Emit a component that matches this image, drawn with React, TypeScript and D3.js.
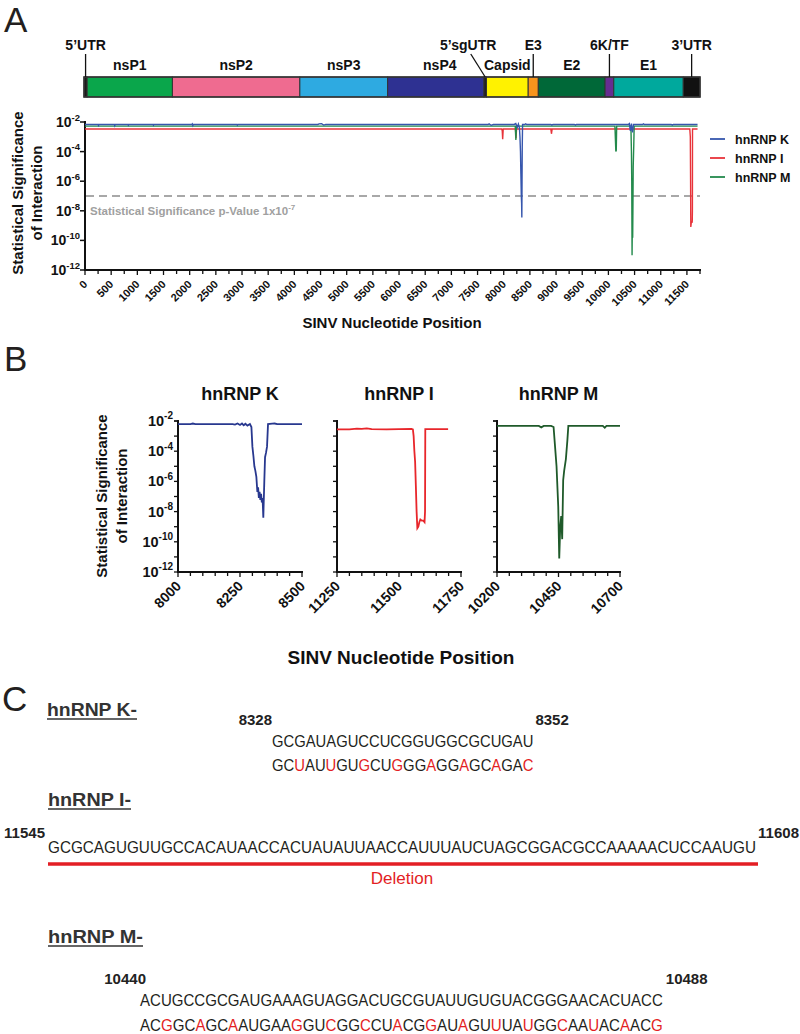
import React from "react";
import * as d3 from "d3";

// ---------- Genome map ----------
const genomeNames = ["5’UTR", "nsP1", "nsP2", "nsP3", "nsP4", "5’sgUTR", "Capsid", "E3", "E2", "6K/TF", "E1", "3’UTR"];
const genomeStart = [0, 60, 1680, 4101, 5769, 7598, 7647, 8439, 8631, 9900, 10065, 11385];
const genomeEnd = [60, 1680, 4101, 5769, 7598, 7647, 8439, 8631, 9900, 10065, 11385, 11703];
const calloutNames = ["5’UTR", "5’sgUTR", "E3", "6K/TF", "3’UTR"];

// ---------- Panel A (whole genome) ----------
const aKPos = [0, 250, 258, 266, 560, 568, 576, 820, 828, 836, 1300, 1308, 1316, 2040, 2050, 2060, 2070, 2900, 2910, 2920, 4450, 4470, 4520, 4560, 4600, 7700, 7720, 7760, 7800, 8200, 8230, 8260, 8280, 8300, 8310, 8320, 8328, 8336, 8342, 8346, 8350, 8354, 8360, 8400, 8420, 8440, 8900, 8920, 8940, 9350, 9370, 9390, 10380, 10400, 10420, 10440, 10460, 10480, 10650, 10670, 10690, 11200, 11220, 11240, 11703];
const aKVal = [0.0068, 0.0068, 0.0058, 0.0068, 0.0068, 0.0057, 0.0068, 0.0068, 0.006, 0.0068, 0.0068, 0.006, 0.0068, 0.0068, 0.0075, 0.0057, 0.0068, 0.0068, 0.006, 0.0068, 0.0068, 0.0075, 0.0078, 0.0062, 0.0068, 0.0068, 0.0075, 0.006, 0.0068, 0.0068, 0.0078, 0.0045, 0.0072, 0.004, 1e-3, 1e-4, 3e-6, 1e-7, 3e-8, 3.5e-9, 1e-6, 2e-4, 0.0068, 0.0068, 0.0075, 0.0068, 0.0068, 0.0062, 0.0068, 0.0068, 0.0062, 0.0068, 0.0068, 0.0078, 0.0025, 0.0078, 0.002, 0.0068, 0.0068, 0.0075, 0.0068, 0.0068, 0.0062, 0.0068, 0.0068];

const aIPos = [0, 7960, 7972, 7980, 7990, 8225, 8235, 8245, 8900, 8912, 8925, 11555, 11565, 11570, 11574, 11580, 11588, 11596, 11602, 11605, 11607, 11703];
const aIVal = [0.0034, 0.0034, 0.0025, 7e-4, 0.0034, 0.0034, 8e-4, 0.0034, 0.0034, 1.6e-3, 0.0034, 0.0034, 1e-3, 1e-6, 8e-10, 1.2e-9, 2e-9, 1.5e-9, 2e-9, 1e-8, 0.0034, 0.0034];

const aMPos = [0, 8220, 8232, 8244, 10125, 10135, 10142, 10150, 10158, 10430, 10440, 10446, 10452, 10457, 10461, 10464, 10468, 10474, 10485, 10492, 11703];
const aMVal = [0.0053, 0.0053, 6e-4, 0.0053, 0.0053, 5e-4, 1e-4, 1.2e-4, 0.0053, 0.0053, 1e-4, 1e-6, 1e-11, 1e-9, 5e-9, 1.5e-10, 1e-8, 1e-5, 3e-4, 0.0053, 0.0053];

const seriesNames = ["hnRNP K", "hnRNP I", "hnRNP M"];
const aXTicks = d3.range(0, 11501, 500);
const aXMinor = d3.range(0, 11751, 250);
const yExponents = [-2, -4, -6, -8, -10, -12];
const thresholdP = 1e-7;

// ---------- Panel B (zoomed windows) ----------
const bKPos = [8000, 8050, 8060, 8070, 8220, 8230, 8240, 8250, 8258, 8265, 8272, 8280, 8290, 8296, 8300, 8304, 8308, 8312, 8316, 8320, 8323, 8326, 8329, 8332, 8335, 8338, 8341, 8344, 8348, 8351, 8355, 8359, 8363, 8380, 8390, 8400, 8500];
const bKVal = [0.0063, 0.0063, 0.0068, 0.0063, 0.0063, 0.0058, 0.0068, 0.0055, 0.0068, 0.0052, 0.0066, 0.005, 0.0063, 0.004, 2e-4, 5e-5, 1e-5, 5e-6, 2e-6, 2e-7, 4e-7, 8e-8, 2e-7, 6e-8, 1.5e-7, 4e-8, 8e-8, 4e-9, 1e-6, 4e-5, 8e-5, 2e-4, 0.0063, 0.0066, 0.0068, 0.0063, 0.0063];

const bIPos = [11250, 11300, 11330, 11350, 11370, 11390, 11450, 11550, 11556, 11559, 11562, 11565, 11568, 11571, 11574, 11578, 11582, 11586, 11592, 11598, 11603, 11605, 11606, 11698];
const bIVal = [0.0028, 0.0028, 0.0031, 0.003, 0.0032, 0.0029, 0.0028, 0.003, 0.0028, 1e-3, 1e-4, 2e-5, 5e-7, 1e-8, 8e-10, 1e-9, 2e-9, 3e-9, 2.5e-9, 2.5e-9, 2e-9, 1e-8, 0.0029, 0.0029];

const bMPos = [10200, 10370, 10380, 10390, 10420, 10430, 10436, 10442, 10449, 10453, 10457, 10461, 10465, 10469, 10473, 10480, 10486, 10490, 10630, 10638, 10645, 10700];
const bMVal = [0.0047, 0.0047, 0.0038, 0.0047, 0.0047, 0.004, 2e-4, 1e-5, 2e-8, 8e-12, 1e-9, 5e-9, 1.5e-10, 1.2e-6, 5e-6, 3e-5, 5e-4, 0.0047, 0.0047, 0.0036, 0.0047, 0.0047];

const bDomains = [[8000, 8500], [11250, 11750], [10200, 10700]];
const bTicks = [[8000, 8250, 8500], [11250, 11500, 11750], [10200, 10450, 10700]];

// ---------- Panel C (sequences) ----------
const kStartLabel = "8328";
const kEndLabel = "8352";
const kWild = "GCGAUAGUCCUCGGUGGCGCUGAU";
const kMutant = "GCUAUUGUGCUGGGAGGAGCAGAC";
const iStartLabel = "11545";
const iEndLabel = "11608";
const iWild = "GCGCAGUGUUGCCACAUAACCACUAUAUUAACCAUUUAUCUAGCGGACGCCAAAAACUCCAAUGU";
const mStartLabel = "10440";
const mEndLabel = "10488";
const mWild = "ACUGCCGCGAUGAAAGUAGGACUGCGUAUUGUGUACGGGAACACUACC";
const mMutant = "ACGGCAGCAAUGAAGGUCGGCCUACGGAUAGUUUAUGGCAAUACAACG";

// ---------- styles ----------
const FONT = "'Liberation Sans', Arial, Helvetica, sans-serif";
const NARROW = "'Liberation Sans Narrow', 'Liberation Sans', Arial, sans-serif";
const genomeColors = ["#1b1b1b", "#0aa64b", "#ef6b90", "#2eaae1", "#2e3192", "#231f20", "#fff200", "#f7941d", "#006838", "#662d91", "#00a99d", "#111111"];
const aColors = ["#3656ad", "#e8333a", "#238a4c"];
const bColors = ["#28388f", "#e8262b", "#1f5a2a"];
const RED = "#e31e24";
const INK = "#231f20";

function Sup({ x, y, exp, size, supSize, anchor = "end" }) {
  return (
    <text x={x} y={y} textAnchor={anchor} fontFamily={FONT} fontWeight="bold" fontSize={size} fill="#111">
      10<tspan dy={-size * 0.45} fontSize={supSize}>{exp}</tspan>
    </text>
  );
}

function Seq({ x, y, width, text, ref0 }) {
  const chars = text.split("");
  return (
    <text x={x} y={y} textLength={width} lengthAdjust="spacingAndGlyphs" fontFamily={NARROW} fontSize={17} fill={INK}>
      {chars.map((c, i) => (
        <tspan key={i} fill={ref0 && ref0[i] !== c ? RED : INK}>{c}</tspan>
      ))}
    </text>
  );
}

function PanelA() {
  const xG = d3.scaleLinear().domain([0, 11703]).range([84, 700]);
  const xA = d3.scaleLinear().domain([0, 11750]).range([85, 700]);
  const yA = d3.scaleLog().domain([1e-12, 1e-2]).range([270, 122]);
  const line = d3.line().x((d) => xA(d[0])).y((d) => yA(d[1]));
  const series = [d3.zip(aKPos, aKVal), d3.zip(aIPos, aIVal), d3.zip(aMPos, aMVal)];
  const calloutShift = { "5’sgUTR": -17 };
  const barTop = 77, barBot = 97;
  return (
    <g>
      <text x={4} y={32} fontFamily={FONT} fontSize={35} fill={INK}>A</text>
      {genomeNames.map((n, i) => (
        <rect key={n} x={xG(genomeStart[i])} y={barTop} width={xG(genomeEnd[i]) - xG(genomeStart[i])} height={barBot - barTop}
          fill={genomeColors[i]} stroke="#333" strokeWidth={1} />
      ))}
      <rect x={xG(0)} y={barTop} width={xG(11703) - xG(0)} height={barBot - barTop} fill="none" stroke="#333" strokeWidth={1.5} />
      {genomeNames.map((n, i) => {
        const cx = (xG(genomeStart[i]) + xG(genomeEnd[i])) / 2;
        if (calloutNames.includes(n)) {
          const shift = calloutShift[n] || 0;
          return (
            <g key={n}>
              <line x1={cx + shift * 0.85} y1={54} x2={cx} y2={barTop} stroke="#111" strokeWidth={1.3} />
              <text x={cx + shift} y={50} textAnchor="middle" fontFamily={FONT} fontWeight="bold" fontSize={14} fill="#111">{n}</text>
            </g>
          );
        }
        return (
          <text key={n} x={cx + (n === "nsP4" ? 4 : 0)} y={70} textAnchor="middle" fontFamily={FONT} fontWeight="bold" fontSize={14} fill="#111">{n}</text>
        );
      })}
      <line x1={85} y1={121} x2={85} y2={271} stroke="#111" strokeWidth={2} />
      <line x1={84} y1={270} x2={701} y2={270} stroke="#111" strokeWidth={2} />
      {yExponents.map((e) => (
        <g key={e}>
          <line x1={80} x2={85} y1={yA(Math.pow(10, e))} y2={yA(Math.pow(10, e))} stroke="#111" strokeWidth={1.5} />
          <Sup x={80} y={yA(Math.pow(10, e)) + 5} exp={`${e}`} size={14} supSize={9.5} />
        </g>
      ))}
      {aXMinor.map((t) => (
        <line key={t} x1={xA(t)} x2={xA(t)} y1={270} y2={t % 500 === 0 ? 275 : 274} stroke="#111" strokeWidth={1.3} />
      ))}
      {aXTicks.map((t) => (
        <text key={t} transform={`translate(${xA(t) + 3},${285}) rotate(-45)`} textAnchor="end" fontFamily={FONT} fontWeight="bold" fontSize={11} fill="#111">{t}</text>
      ))}
      <text x={392} y={328} textAnchor="middle" fontFamily={FONT} fontWeight="bold" fontSize={15} fill="#111">SINV Nucleotide Position</text>
      <text transform="translate(23,193) rotate(-90)" textAnchor="middle" fontFamily={FONT} fontWeight="bold" fontSize={15} fill="#111">Statistical Significance</text>
      <text transform="translate(42,193) rotate(-90)" textAnchor="middle" fontFamily={FONT} fontWeight="bold" fontSize={15} fill="#111">of Interaction</text>
      <line x1={86} x2={700} y1={yA(thresholdP)} y2={yA(thresholdP)} stroke="#a8a8a8" strokeWidth={2} strokeDasharray="8,5" />
      <text x={90} y={215} fontFamily={FONT} fontWeight="bold" fontSize={11.5} fill="#a0a0a0">
        Statistical Significance p-Value 1x10<tspan dy={-5} fontSize={8}>-7</tspan>
      </text>
      {[1, 2, 0].map((i) => (
        <path key={i} d={line(series[i])} fill="none" stroke={aColors[i]} strokeWidth={1.4} />
      ))}
      {seriesNames.map((n, i) => (
        <g key={n}>
          <line x1={710} x2={725} y1={139 + i * 19} y2={139 + i * 19} stroke={aColors[i]} strokeWidth={1.8} />
          <text x={735} y={143.5 + i * 19} fontFamily={FONT} fontWeight="bold" fontSize={12.5} fill="#111">{n}</text>
        </g>
      ))}
    </g>
  );
}

function PanelB() {
  const ranges = [[178, 302], [337, 461], [497, 620]];
  const yB = d3.scaleLog().domain([1e-12, 1e-2]).range([572, 421]);
  const data = [d3.zip(bKPos, bKVal), d3.zip(bIPos, bIVal), d3.zip(bMPos, bMVal)];
  const decades = d3.range(-12, -1);
  return (
    <g>
      <text x={4} y={371} fontFamily={FONT} fontSize={35} fill={INK}>B</text>
      <text transform="translate(107,496) rotate(-90)" textAnchor="middle" fontFamily={FONT} fontWeight="bold" fontSize={15} fill="#111">Statistical Significance</text>
      <text transform="translate(127,496) rotate(-90)" textAnchor="middle" fontFamily={FONT} fontWeight="bold" fontSize={15} fill="#111">of Interaction</text>
      {ranges.map((r, p) => {
        const x = d3.scaleLinear().domain(bDomains[p]).range(r);
        const line = d3.line().x((d) => x(d[0])).y((d) => yB(d[1]));
        const minor = d3.range(bDomains[p][0], bDomains[p][1] + 1, 50);
        return (
          <g key={p}>
            <text x={(r[0] + r[1]) / 2} y={400} textAnchor="middle" fontFamily={FONT} fontWeight="bold" fontSize={18} fill="#111">{seriesNames[p]}</text>
            <line x1={r[0]} x2={r[0]} y1={420} y2={573} stroke="#111" strokeWidth={2} />
            <line x1={r[0] - 1} x2={r[1] + 1} y1={572} y2={572} stroke="#111" strokeWidth={2} />
            {decades.map((e) => (
              <line key={e} x1={r[0] - 4} x2={r[0]} y1={yB(Math.pow(10, e))} y2={yB(Math.pow(10, e))} stroke="#111" strokeWidth={1.3} />
            ))}
            <line x1={r[0] - 4} x2={r[0]} y1={yB(1e-2)} y2={yB(1e-2)} stroke="#111" strokeWidth={1.3} />
            {p === 0 && yExponents.map((e) => (
              <Sup key={e} x={173} y={yB(Math.pow(10, e)) + 5} exp={`${e}`} size={14.5} supSize={10} />
            ))}
            {minor.map((t) => (
              <line key={t} x1={x(t)} x2={x(t)} y1={572} y2={bTicks[p].includes(t) ? 577 : 576} stroke="#111" strokeWidth={1.3} />
            ))}
            {bTicks[p].map((t) => (
              <text key={t} transform={`translate(${x(t) + 4},${587}) rotate(-45)`} textAnchor="end" fontFamily={FONT} fontWeight="bold" fontSize={14} fill="#111">{t}</text>
            ))}
            <path d={line(data[p])} fill="none" stroke={bColors[p]} strokeWidth={1.8} />
          </g>
        );
      })}
      <text x={401} y={664} textAnchor="middle" fontFamily={FONT} fontWeight="bold" fontSize={19} fill="#111">SINV Nucleotide Position</text>
    </g>
  );
}

function Heading({ x, y, label, width }) {
  return (
    <g>
      <text x={x} y={y} fontFamily={FONT} fontWeight="bold" fontSize={19} fill="#333" textLength={width} lengthAdjust="spacingAndGlyphs">{label}</text>
      <line x1={x} x2={x + width} y1={y + 3} y2={y + 3} stroke="#333" strokeWidth={1.5} />
    </g>
  );
}

function PanelC() {
  const numStyle = { fontFamily: NARROW, fontWeight: "bold", fontSize: 15, fill: "#222" };
  const iW = 708;
  const charW = iW / iWild.length;
  const kW = charW * kWild.length;
  const mW = charW * mWild.length;
  const kX = 272, iX = 48, mX = 140;
  return (
    <g>
      <text x={2} y={711} fontFamily={FONT} fontSize={35} fill={INK}>C</text>
      <Heading x={47} y={716} label="hnRNP K-" width={90} />
      <text x={kX} y={725} textAnchor="end" {...numStyle}>{kStartLabel}</text>
      <text x={kX + kW + 2} y={725} {...numStyle}>{kEndLabel}</text>
      <Seq x={kX} y={747} width={kW} text={kWild} />
      <Seq x={kX} y={771} width={kW} text={kMutant} ref0={kWild} />

      <Heading x={48} y={806} label="hnRNP I-" width={83} />
      <text x={iX - 3} y={838} textAnchor="end" {...numStyle}>{iStartLabel}</text>
      <text x={799} y={838} textAnchor="end" {...numStyle}>{iEndLabel}</text>
      <Seq x={iX} y={853} width={iW} text={iWild} />
      <line x1={iX} x2={iX + iW + 2} y1={864} y2={864} stroke={RED} strokeWidth={3.5} />
      <text x={iX + iW / 2} y={884} textAnchor="middle" fontFamily={NARROW} fontSize={17} fill={RED}>Deletion</text>

      <Heading x={48} y={943} label="hnRNP M-" width={95} />
      <text x={mX + 6} y={984} textAnchor="end" {...numStyle}>{mStartLabel}</text>
      <text x={mX + mW + 3} y={984} {...numStyle}>{mEndLabel}</text>
      <Seq x={mX} y={1006} width={mW} text={mWild} />
      <Seq x={mX} y={1031} width={mW} text={mMutant} ref0={mWild} />
    </g>
  );
}

export default function App() {
  return (
    <svg width={800} height={1034} viewBox="0 0 800 1034" style={{ position: "absolute", left: 0, top: 0, background: "#fff" }}>
      <rect x={0} y={0} width={800} height={1034} fill="#fff" />
      <PanelA />
      <PanelB />
      <PanelC />
    </svg>
  );
}
